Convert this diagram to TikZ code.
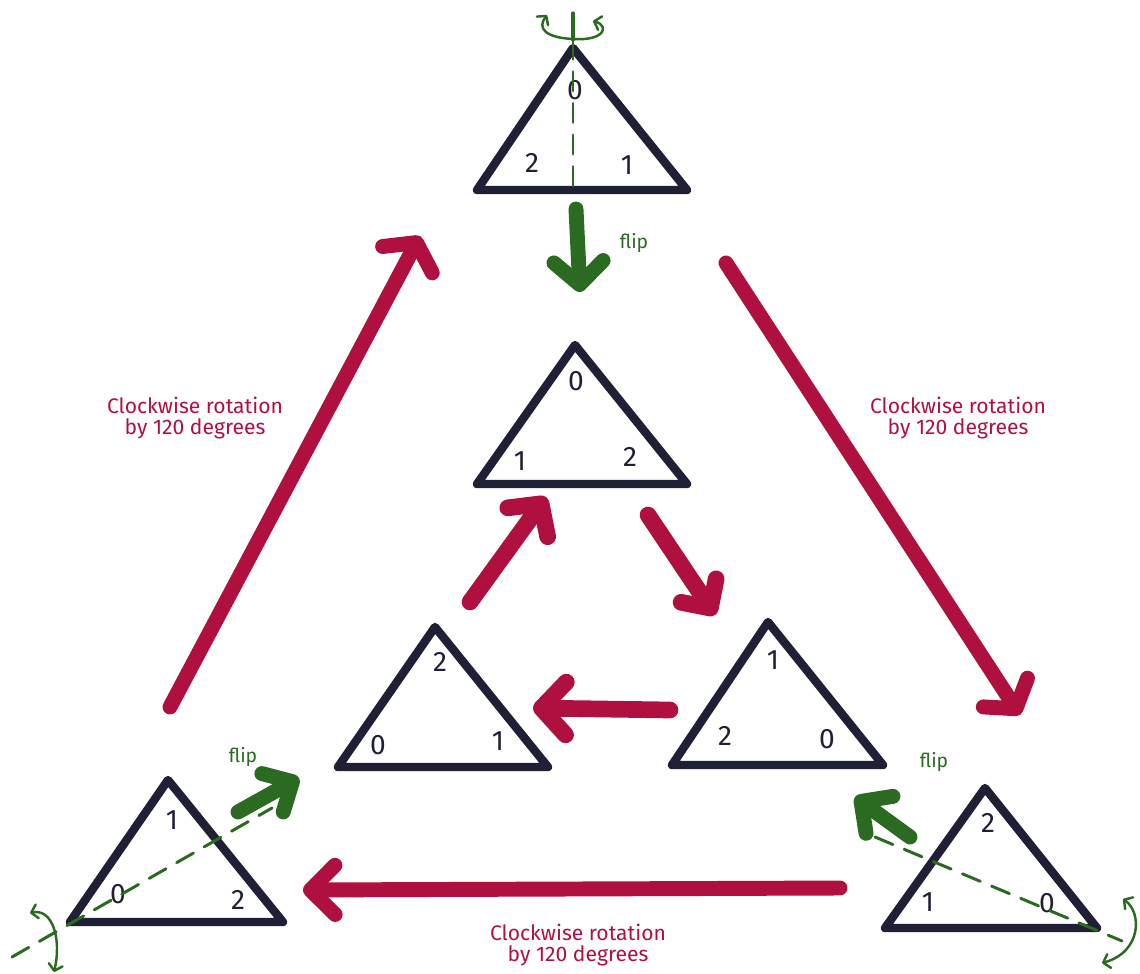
\documentclass[tikz,border=0pt]{standalone}
\usepackage{fontspec}
\setmainfont{Fira Sans}
\usetikzlibrary{arrows.meta}
\definecolor{ink}{HTML}{1F2035}
\definecolor{crim}{HTML}{B0103F}
\definecolor{grn}{HTML}{2B6B21}
\begin{document}
\begin{tikzpicture}[x=0.02cm,y=-0.02cm,
  tri/.style={draw=ink,line width=4.8pt,line join=round,line cap=round},
  digit/.style={text=ink,font=\fontsize{16}{16}\selectfont,inner sep=0pt},
  rarrow/.style={draw=crim,line width=8.5pt,line cap=round},
  garrow/.style={draw=grn,line width=8.5pt,line cap=round},
  rtip/.style 2 args={-{Straight Barb[round,length=#1,width=#2]}},
  axisline/.style={draw=grn,line width=1.7pt,line cap=round,dash pattern=on 11pt off 7pt},
  looparrow/.style={draw=grn,line width=1.4pt,line cap=round,
    {Straight Barb[round,length=3.5pt,width=8pt]}-{Straight Barb[round,length=3.5pt,width=8pt]}},
  lbl/.style={text=crim,font=\fontsize{12}{11.5}\selectfont,align=center},
  fliplbl/.style={text=grn,font=\fontsize{11}{12}\selectfont},
]
\useasboundingbox (0,0) rectangle (1140,974);

% triangle vertices
\coordinate (Ta) at (573,48);  \coordinate (Tb) at (477,190); \coordinate (Tc) at (687,190);
\coordinate (Ca) at (575,345); \coordinate (Cb) at (477,484); \coordinate (Cc) at (687,484);
\coordinate (La) at (435,627); \coordinate (Lb) at (338,767); \coordinate (Lc) at (548,767);
\coordinate (Ra) at (768,622); \coordinate (Rb) at (672,765); \coordinate (Rc) at (883,765);
\coordinate (Pa) at (168,780); \coordinate (Pb) at (70,922);  \coordinate (Pc) at (283,922);
\coordinate (Qa) at (985,788); \coordinate (Qb) at (885,928); \coordinate (Qc) at (1097,928);

\draw[tri] (Ta) -- (Tb) -- (Tc) -- cycle;
\draw[tri] (Ca) -- (Cb) -- (Cc) -- cycle;
\draw[tri] (La) -- (Lb) -- (Lc) -- cycle;
\draw[tri] (Ra) -- (Rb) -- (Rc) -- cycle;
\draw[tri] (Pa) -- (Pb) -- (Pc) -- cycle;
\draw[tri] (Qa) -- (Qb) -- (Qc) -- cycle;

% digits
\node[digit] (t0) at (575,90) {0};  \node[digit] (t2) at (532,163) {2}; \node[digit] (t1) at (627,165) {1};
\node[digit] (c0) at (576,381) {0}; \node[digit] (c1) at (520,461) {1}; \node[digit] (c2) at (630,457) {2};
\node[digit] (l2) at (440,662) {2}; \node[digit] (l0) at (378,745) {0}; \node[digit] (l1) at (498,741) {1};
\node[digit] (r1) at (773,660) {1}; \node[digit] (r2) at (725,736) {2}; \node[digit] (r0) at (827,739) {0};
\node[digit] (p1) at (172,820) {1}; \node[digit] (p0) at (118,894) {0}; \node[digit] (p2) at (238,900) {2};
\node[digit] (q2) at (988,823) {2}; \node[digit] (q1) at (928,902) {1}; \node[digit] (q0) at (1047,903) {0};

% flip axes (dashed) and rotation loops
\coordinate (ax1s) at (573,13); \coordinate (ax1m) at (573,40); \coordinate (ax1e) at (573,190);
\draw[grn,line width=1.8pt,line cap=round] (ax1s) -- (ax1m);
\draw[axisline] (ax1m) -- (ax1e);
\coordinate (lp1s) at (593,21); \coordinate (lp1e) at (547,15);
\draw[looparrow] (lp1s) .. controls (610,26) and (604,41) .. (574,39) .. controls (545,38) and (537,28) .. (lp1e);

\coordinate (ax2s) at (12,957); \coordinate (ax2e) at (272,808);
\draw[axisline] (ax2s) -- (ax2e);
\coordinate (lp2s) at (30,913); \coordinate (lp2e) at (54,972);
\draw[looparrow] (lp2s) .. controls (52,908) and (62,938) .. (lp2e);

\coordinate (ax3s) at (875,837); \coordinate (ax3e) at (1122,941);
\draw[axisline] (ax3s) -- (ax3e);
\coordinate (lp3s) at (1123,899); \coordinate (lp3e) at (1102,963);
\draw[looparrow] (lp3s) .. controls (1142,912) and (1142,952) .. (lp3e);

% green flip arrows
\coordinate (g1s) at (576,209); \coordinate (g1e) at (580,292);
\draw[garrow,rtip={13pt}{28pt}] (g1s) -- (g1e);
\coordinate (g2s) at (238,812); \coordinate (g2e) at (299,778);
\draw[garrow,rtip={13pt}{25pt}] (g2s) -- (g2e);
\coordinate (g3s) at (910,837); \coordinate (g3e) at (855,797);
\draw[garrow,rtip={13pt}{26pt}] (g3s) -- (g3e);

\node[fliplbl] (f1) at (634,243) {flip};
\node[fliplbl] (f2) at (243,757) {flip};
\node[fliplbl] (f3) at (934,762) {flip};

% red arrows
\coordinate (a1s) at (170,707); \coordinate (a1e) at (420,236);
\draw[rarrow,rtip={11pt}{32pt}] (a1s) -- (a1e);
\coordinate (a2s) at (726,263); \coordinate (a2e) at (1020,715);
\draw[rarrow,rtip={11pt}{30pt}] (a2s) -- (a2e);
\coordinate (a3s) at (840,888); \coordinate (a3e) at (303,890);
\draw[rarrow,rtip={14pt}{28pt}] (a3s) -- (a3e);
\coordinate (a4s) at (470,602); \coordinate (a4e) at (546,497);
\draw[rarrow,line width=9.5pt,rtip={13pt}{28pt}] (a4s) -- (a4e);
\coordinate (a5s) at (648,515); \coordinate (a5e) at (715,615);
\draw[rarrow,line width=9.5pt,rtip={12pt}{24pt}] (a5s) -- (a5e);
\coordinate (a6s) at (670,710); \coordinate (a6e) at (533,708);
\draw[rarrow,line width=9.5pt,rtip={14pt}{30pt}] (a6s) -- (a6e);

% labels
\node[lbl] (lblL) at (195,418) {Clockwise rotation\\by 120 degrees};
\node[lbl] (lblR) at (958,418) {Clockwise rotation\\by 120 degrees};
\node[lbl] (lblB) at (578,945) {Clockwise rotation\\by 120 degrees};
\end{tikzpicture}
\end{document}
